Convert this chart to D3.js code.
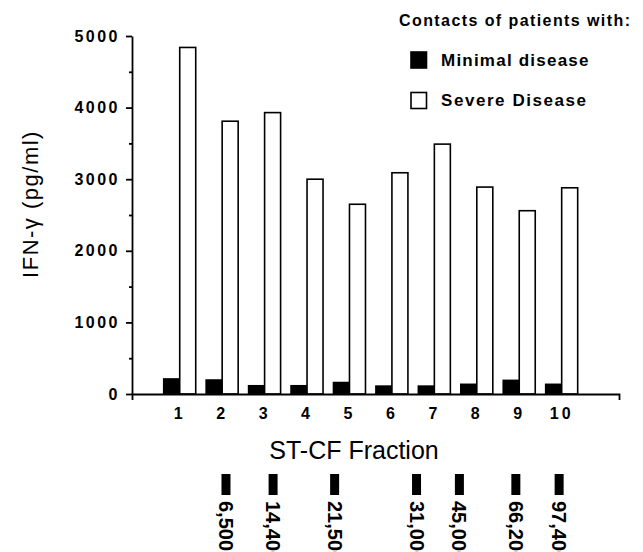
<!DOCTYPE html>
<html>
<head>
<meta charset="utf-8">
<script src="https://cdn.jsdelivr.net/npm/d3@7"></script>
<style>
  body { margin: 0; background: #fff; }
  text { font-family: "Liberation Sans", Arial, Helvetica, sans-serif; fill: #000; }
</style>
</head>
<body>
<div id="chart"></div>
<script>
const fractions = ["1", "2", "3", "4", "5", "6", "7", "8", "9", "10"];
const minimal = [210, 195, 115, 115, 160, 110, 110, 135, 190, 135];
const severe = [4840, 3810, 3930, 3000, 2650, 3090, 3490, 2890, 2560, 2880];
const yTicks = [0, 1000, 2000, 3000, 4000, 5000];
const yMinorTicks = [500, 1500, 2500, 3500, 4500];
const seriesKeys = ["minimal", "severe"];
const legendLabels = ["Minimal disease", "Severe Disease"];
// molecular weight markers, placed in units of fraction number
const markerLabels = ["6,500", "14,400", "21,500", "31,000", "45,000", "66,200", "97,400"];
const markerPos = [2.09, 3.20, 4.65, 6.58, 7.59, 8.92, 9.94];

const width = 643, height = 552;
const axisLeftX = 132, axisRightX = 619;

const svg = d3.select("#chart")
  .append("svg")
    .attr("width", width)
    .attr("height", height);

// scales
const x = d3.scaleBand()
  .domain(fractions)
  .range([158.5, 582.9])
  .paddingInner(0.246)
  .paddingOuter(0.123);

const xSub = d3.scaleBand()
  .domain(seriesKeys)
  .range([0, x.bandwidth()]);

const y = d3.scaleLinear()
  .domain([0, 5000])
  .range([394, 36]);

const fill = d3.scaleOrdinal()
  .domain(seriesKeys)
  .range(["#000", "#fff"]);

const rows = fractions.map(function(f, i) {
  return { fraction: f, minimal: minimal[i], severe: severe[i] };
});

// bars
const groups = svg.append("g")
  .selectAll("g")
  .data(rows)
  .enter()
  .append("g")
    .attr("transform", function(d) { return "translate(" + x(d.fraction) + ",0)"; });

groups.selectAll("rect")
  .data(function(d) { return seriesKeys.map(function(k) { return { key: k, value: d[k] }; }); })
  .enter()
  .append("rect")
    .attr("x", function(d) { return xSub(d.key); })
    .attr("y", function(d) { return y(d.value); })
    .attr("width", xSub.bandwidth())
    .attr("height", function(d) { return y(0) - y(d.value); })
    .attr("fill", function(d) { return fill(d.key); })
    .attr("stroke", "#000")
    .attr("stroke-width", 1.6);

// y axis
const yAxis = svg.append("g")
  .attr("transform", "translate(" + axisLeftX + ",0)")
  .call(d3.axisLeft(y).tickValues(yTicks).tickSize(6).tickSizeOuter(0).tickFormat(d3.format("d")));

yAxis.selectAll("text")
  .attr("x", -12)
  .style("font-size", "16px")
  .style("font-weight", "bold")
  .style("letter-spacing", "2.5px");

svg.append("g")
  .attr("transform", "translate(" + axisLeftX + ",0)")
  .call(d3.axisLeft(y).tickValues(yMinorTicks).tickSize(3).tickFormat(""))
  .call(function(g) { g.select(".domain").remove(); });

// x axis line with end ticks
const xLine = d3.scaleLinear().domain([0, 1]).range([axisLeftX, axisRightX]);
svg.append("g")
  .attr("transform", "translate(0," + y(0) + ")")
  .call(d3.axisBottom(xLine).tickValues([]).tickSizeOuter(6));

const xAxis = svg.append("g")
  .attr("transform", "translate(0," + y(0) + ")")
  .call(d3.axisBottom(x).tickSize(0).tickPadding(14))
  .call(function(g) { g.select(".domain").remove(); });

xAxis.selectAll("text")
  .style("font-size", "16px")
  .style("font-weight", "bold")
  .style("letter-spacing", "3px");

svg.selectAll(".domain, .tick line")
  .attr("stroke", "#000")
  .attr("stroke-width", 1.8);

// axis titles
svg.append("text")
  .attr("transform", "translate(38,204) rotate(-90)")
  .style("text-anchor", "middle")
  .style("font-size", "22px")
  .style("letter-spacing", "1.5px")
  .text("IFN-\u03b3 (pg/ml)");

svg.append("text")
  .attr("x", 354)
  .attr("y", 459)
  .style("text-anchor", "middle")
  .style("font-size", "25px")
  .text("ST-CF Fraction");

// legend
svg.append("text")
  .attr("x", 399)
  .attr("y", 25.5)
  .attr("textLength", 231)
  .attr("lengthAdjust", "spacing")
  .style("font-size", "16px")
  .style("font-weight", "bold")
  .text("Contacts of patients with:");

const legend = svg.append("g")
  .selectAll("g")
  .data(seriesKeys)
  .enter()
  .append("g")
    .attr("transform", function(d, i) { return "translate(411," + (52 + i * 40.5) + ")"; });

legend.append("rect")
  .attr("width", 15.5)
  .attr("height", 16)
  .attr("fill", function(d) { return fill(d); })
  .attr("stroke", "#000")
  .attr("stroke-width", 1.6);

legend.append("text")
  .attr("x", 30)
  .attr("y", 13.5)
  .attr("textLength", function(d, i) { return i == 0 ? 147.5 : 145; })
  .attr("lengthAdjust", "spacing")
  .style("font-size", "17px")
  .style("font-weight", "bold")
  .text(function(d, i) { return legendLabels[i]; });

// molecular weight markers under the fraction axis
const mw = d3.scaleLinear()
  .domain([1, 10])
  .range([x("1") + x.bandwidth() / 2, x("10") + x.bandwidth() / 2]);

const markers = svg.append("g")
  .selectAll("g")
  .data(markerLabels)
  .enter()
  .append("g")
    .attr("transform", function(d, i) { return "translate(" + mw(markerPos[i]) + ",474)"; });

markers.append("rect")
  .attr("x", -4.5)
  .attr("width", 9)
  .attr("height", 21)
  .attr("fill", "#000");

markers.append("text")
  .attr("transform", "translate(0,27) rotate(90)")
  .attr("dy", "0.35em")
  .style("font-size", "20px")
  .style("font-weight", "bold")
  .text(function(d) { return d; });
</script>
</body>
</html>
